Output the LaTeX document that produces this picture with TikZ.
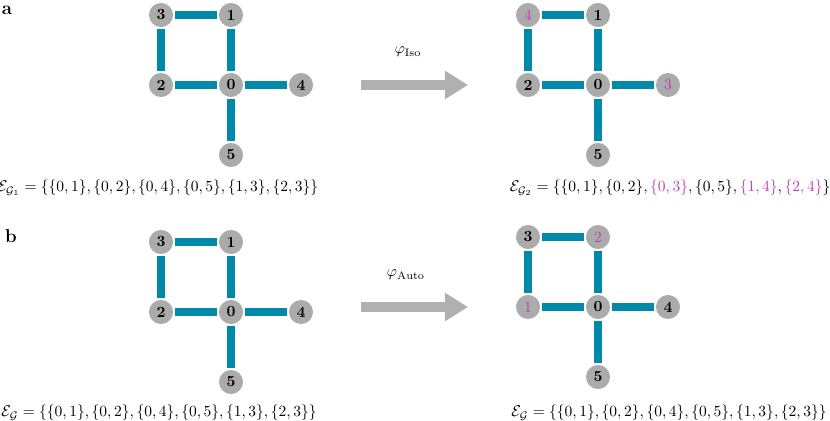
\documentclass[tikz,border=0pt]{standalone}
\usepackage{amsmath,amssymb}
\usepackage{tikz}
\usetikzlibrary{arrows.meta,positioning,backgrounds}
\definecolor{edgeblue}{HTML}{0089A9}
\definecolor{nodegray}{HTML}{ABABAB}
\definecolor{arrowgray}{HTML}{B0B0B0}
\definecolor{relabel}{HTML}{C23DB3}

\begin{document}
\begin{tikzpicture}[
  x=0.645pt,y=0.645pt,
  node distance=45.15pt,on grid,
  vtx/.style={circle,fill=nodegray,minimum size=15.5pt,inner sep=0pt,font=\bfseries},
  moved/.style={text=relabel,font=\normalfont},
  link/.style={draw=white,line width=0.5pt,double=edgeblue,double distance=5.3pt,shorten <=1pt,shorten >=1pt},
  map/.style={-{Triangle[length=15pt,width=17.5pt]},line width=6.5pt,draw=arrowgray},
  panel/.style={font=\large\bfseries,inner sep=1pt}
]
\useasboundingbox (0,0) rectangle (830,-421);
\node[panel] (pa) at (7,-10) {a};
\node[panel] (pb) at (11,-236) {b};
% G1
\node[vtx] (ga3) at (161,-15) {3};
\node[vtx,right=of ga3] (ga1) {1};
\node[vtx,below=of ga3] (ga2) {2};
\node[vtx,right=of ga2] (ga0) {0};
\node[vtx,right=of ga0] (ga4) {4};
\node[vtx,below=of ga0] (ga5) {5};
% G2
\node[vtx,moved] (gb4) at (528,-15) {4};
\node[vtx,right=of gb4] (gb1) {1};
\node[vtx,below=of gb4] (gb2) {2};
\node[vtx,right=of gb2] (gb0) {0};
\node[vtx,moved,right=of gb0] (gb3) {3};
\node[vtx,below=of gb0] (gb5) {5};
% G
\node[vtx] (gc3) at (161,-242) {3};
\node[vtx,right=of gc3] (gc1) {1};
\node[vtx,below=of gc3] (gc2) {2};
\node[vtx,right=of gc2] (gc0) {0};
\node[vtx,right=of gc0] (gc4) {4};
\node[vtx,below=of gc0] (gc5) {5};
% G after automorphism
\node[vtx] (gd3) at (528,-237) {3};
\node[vtx,moved,right=of gd3] (gd2) {2};
\node[vtx,moved,below=of gd3] (gd1) {1};
\node[vtx,right=of gd1] (gd0) {0};
\node[vtx,right=of gd0] (gd4) {4};
\node[vtx,below=of gd0] (gd5) {5};
\begin{scope}[on background layer]
\draw[link] (ga0) -- (ga1);
\draw[link] (ga0) -- (ga2);
\draw[link] (ga0) -- (ga4);
\draw[link] (ga0) -- (ga5);
\draw[link] (ga1) -- (ga3);
\draw[link] (ga2) -- (ga3);
\draw[link] (gb0) -- (gb1);
\draw[link] (gb0) -- (gb2);
\draw[link] (gb0) -- (gb3);
\draw[link] (gb0) -- (gb5);
\draw[link] (gb1) -- (gb4);
\draw[link] (gb2) -- (gb4);
\draw[link] (gc0) -- (gc1);
\draw[link] (gc0) -- (gc2);
\draw[link] (gc0) -- (gc4);
\draw[link] (gc0) -- (gc5);
\draw[link] (gc1) -- (gc3);
\draw[link] (gc2) -- (gc3);
\draw[link] (gd0) -- (gd1);
\draw[link] (gd0) -- (gd2);
\draw[link] (gd0) -- (gd4);
\draw[link] (gd0) -- (gd5);
\draw[link] (gd1) -- (gd3);
\draw[link] (gd2) -- (gd3);
\end{scope}
% maps
\coordinate (isoL) at (361,-85);
\coordinate (isoR) at (468,-85);
\draw[map] (isoL) -- (isoR) node[pos=0.44,above=11.6pt] (isolab) {$\varphi_{\mathrm{Iso}}$};
\coordinate (autoL) at (361,-307);
\coordinate (autoR) at (468,-307);
\draw[map] (autoL) -- (autoR) node[pos=0.42,above=11pt] (autolab) {$\varphi_{\mathrm{Auto}}$};
% edge sets
\node (ea) at (158,-188) {$\mathcal{E}_{\mathcal{G}_1}=\{\{0,1\},\{0,2\},\{0,4\},\{0,5\},\{1,3\},\{2,3\}\}$};
\node (eb) at (670,-188) {$\mathcal{E}_{\mathcal{G}_2}=\{\{0,1\},\{0,2\},\textcolor{relabel}{\{0,3\}},\{0,5\},\textcolor{relabel}{\{1,4\}},\textcolor{relabel}{\{2,4\}}\}$};
\node (ec) at (159,-413) {$\mathcal{E}_{\mathcal{G}}=\{\{0,1\},\{0,2\},\{0,4\},\{0,5\},\{1,3\},\{2,3\}\}$};
\node (ed) at (669,-413) {$\mathcal{E}_{\mathcal{G}}=\{\{0,1\},\{0,2\},\{0,4\},\{0,5\},\{1,3\},\{2,3\}\}$};
\end{tikzpicture}
\end{document}
